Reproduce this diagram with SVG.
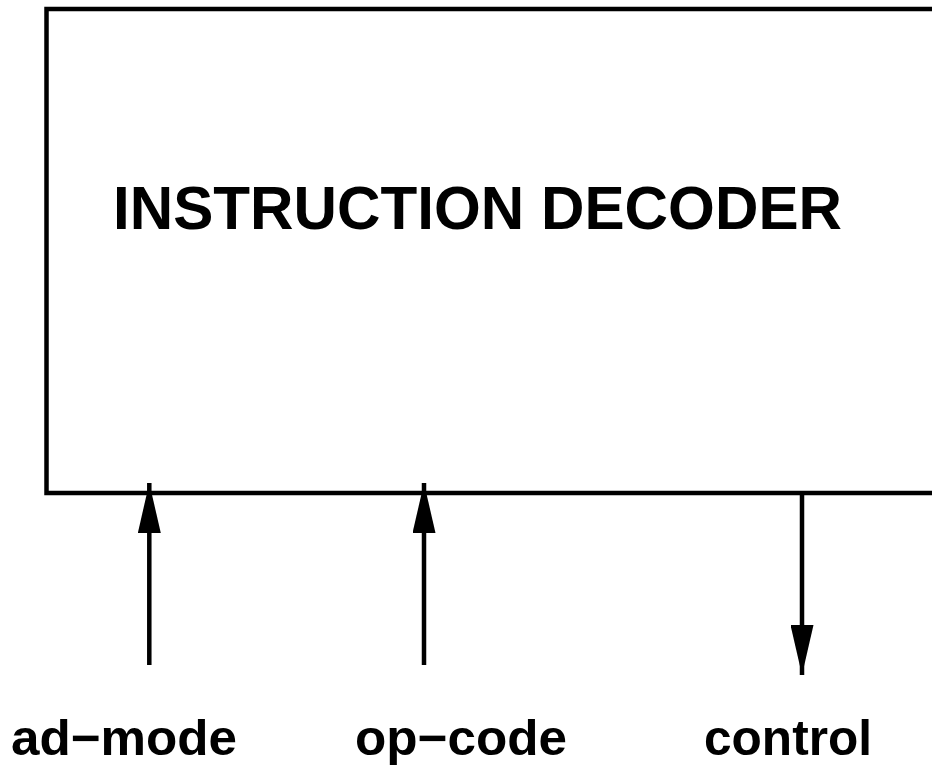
<svg xmlns="http://www.w3.org/2000/svg" width="932" height="770" viewBox="0 0 932 770">
<style>
.t{font-family:"Liberation Sans",Arial,Helvetica,sans-serif;font-weight:bold;fill:#000}
.ln{stroke:#000;stroke-width:4.5;fill:none}
</style>
<defs>
<marker id="ah" markerUnits="userSpaceOnUse" markerWidth="50" markerHeight="23" refX="50" refY="11.5" orient="auto" viewBox="0 0 50 23">
<path d="M0,0 L50,11.5 L0,23 Z" fill="#000"/>
</marker>
</defs>
<rect width="932" height="770" fill="#fff"/>
<g id="decoder">
<path class="ln" d="M950,9 H46.5 V493 H950"/>
<text class="t" x="113" y="229" font-size="61" textLength="729" lengthAdjust="spacingAndGlyphs">INSTRUCTION DECODER</text>
</g>
<g id="connectors">
<line class="ln" x1="149.3" y1="665" x2="149.3" y2="483" marker-end="url(#ah)"/>
<line class="ln" x1="424" y1="665" x2="424" y2="483" marker-end="url(#ah)"/>
<line class="ln" x1="802" y1="493" x2="802" y2="675" marker-end="url(#ah)"/>
</g>
<g id="ad-mode"><text class="t" x="11" y="755" font-size="50" textLength="226" lengthAdjust="spacingAndGlyphs">ad−mode</text></g>
<g id="op-code"><text class="t" x="355" y="755" font-size="50" textLength="212" lengthAdjust="spacingAndGlyphs">op−code</text></g>
<g id="control"><text class="t" x="704" y="755" font-size="50" textLength="168" lengthAdjust="spacingAndGlyphs">control</text></g>
</svg>
